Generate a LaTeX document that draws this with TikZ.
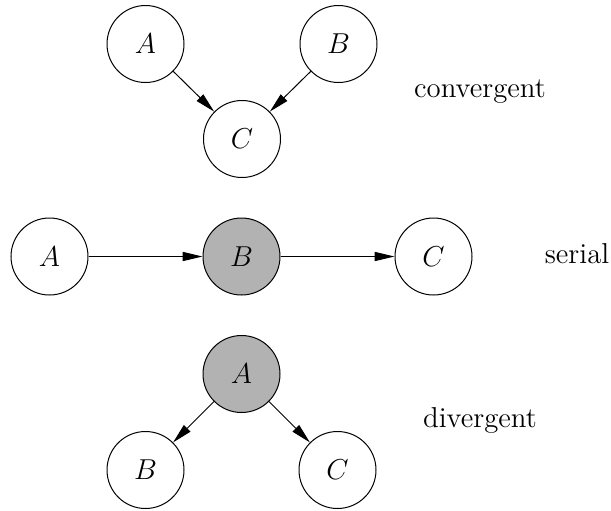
\documentclass[tikz,border=0pt]{standalone}
\usetikzlibrary{arrows.meta}
\begin{document}
\begin{tikzpicture}[x=0.5pt,y=-0.5pt,
  var/.style={circle,draw,line width=0.5pt,minimum size=38.5pt,inner sep=0pt,font=\Large},
  obs/.style={var,fill=black!30},
  edge/.style={line width=0.5pt,-{Triangle[length=10pt,width=4.6pt]},shorten >=0pt},
  caption/.style={anchor=base,font=\Large}]
\useasboundingbox (0,0) rectangle (611,510);

% convergent connection
\node[var] (cA) at (145.5,44) {$A$};
\node[var] (cB) at (338.5,44) {$B$};
\node[var] (cC) at (242,139) {$C$};
\draw[edge] (cA) -- (cC);
\draw[edge] (cB) -- (cC);
\node[caption] (cL) at (480,97) {convergent};

% serial connection
\node[var] (sA) at (49.5,256.5) {$A$};
\node[obs] (sB) at (241.5,256.5) {$B$};
\node[var] (sC) at (433.5,256.5) {$C$};
\draw[edge] (sA) -- (sB);
\draw[edge] (sB) -- (sC);
\node[caption] (sL) at (577,263) {serial};

% divergent connection
\node[obs] (dA) at (241.5,374) {$A$};
\node[var] (dB) at (145.5,470) {$B$};
\node[var] (dC) at (337.5,470) {$C$};
\draw[edge] (dA) -- (dB);
\draw[edge] (dA) -- (dC);
\node[caption] (dL) at (480,427) {divergent};
\end{tikzpicture}
\end{document}
